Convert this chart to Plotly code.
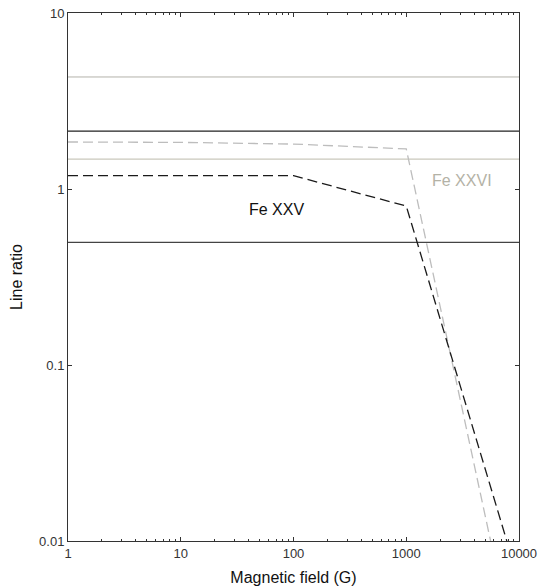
import plotly.graph_objects as go

# Horizontal reference levels (line ratio)
ref_B = [1, 10000]
ref_upper_gray = 4.33
ref_upper_black = 2.13
ref_fe26_level = 1.48
ref_lower_black = 0.497

# Fe XXV curve
fe25_B = [1, 10, 100, 1000, 7800]
fe25_ratio = [1.19, 1.19, 1.19, 0.80, 0.01]

# Fe XXVI curve
fe26_B = [1, 10, 100, 1000, 5600]
fe26_ratio = [1.85, 1.84, 1.80, 1.69, 0.01]

x_tickvals = [1, 10, 100, 1000, 10000]
x_ticktext = ["1", "10", "100", "1000", "10000"]
y_tickvals = [0.01, 0.1, 1, 10]
y_ticktext = ["0.01", "0.1", "1", "10"]

fig = go.Figure()

def hline(val, color, width):
    fig.add_trace(go.Scatter(x=ref_B, y=[val, val], mode="lines",
                             line=dict(color=color, width=width),
                             showlegend=False, hoverinfo="skip"))

hline(ref_upper_gray, "#b3b2aa", 1)
hline(ref_upper_black, "#222222", 1.3)
hline(ref_fe26_level, "#cac8bc", 1.3)
hline(ref_lower_black, "#444444", 1.3)

fig.add_trace(go.Scatter(x=fe26_B, y=fe26_ratio, mode="lines",
                         line=dict(color="#bdbdbd", width=1.3, dash="10px,5px"),
                         showlegend=False))
fig.add_trace(go.Scatter(x=fe25_B, y=fe25_ratio, mode="lines",
                         line=dict(color="#1a1a1a", width=1.3, dash="10px,5px"),
                         showlegend=False))

fig.add_annotation(x=1.845, y=-0.119, xref="x", yref="y", text="Fe XXV",
                   showarrow=False, font=dict(size=16, color="#111111"))
fig.add_annotation(x=3.49, y=0.05, xref="x", yref="y", text="Fe XXVI",
                   showarrow=False, font=dict(size=16, color="#b4b2a6"))

axis_common = dict(showgrid=False, zeroline=False, showline=True,
                   linecolor="#333333", linewidth=1, mirror="ticks",
                   ticks="inside", tickcolor="#333333", ticklen=4,
                   tickfont=dict(size=13, color="#333333"), automargin=False)

fig.update_xaxes(type="log", range=[0, 4], tickvals=x_tickvals, ticktext=x_ticktext,
                 title=dict(text="Magnetic field (G)", font=dict(size=16, color="#111111"),
                            standoff=12),
                 minor=dict(ticks="inside", ticklen=2, tickcolor="#333333", dtick="D1"),
                 **axis_common)
fig.update_yaxes(type="log", range=[-2, 1], tickvals=y_tickvals, ticktext=y_ticktext,
                 title=dict(text="Line ratio", font=dict(size=16, color="#111111"),
                            standoff=12),
                 **axis_common)

fig.update_layout(width=544, height=588, margin=dict(l=68, r=25, t=13, b=47),
                  plot_bgcolor="white", paper_bgcolor="white",
                  font=dict(family="Liberation Sans, Arial, sans-serif"))

fig.write_html("out.html")
